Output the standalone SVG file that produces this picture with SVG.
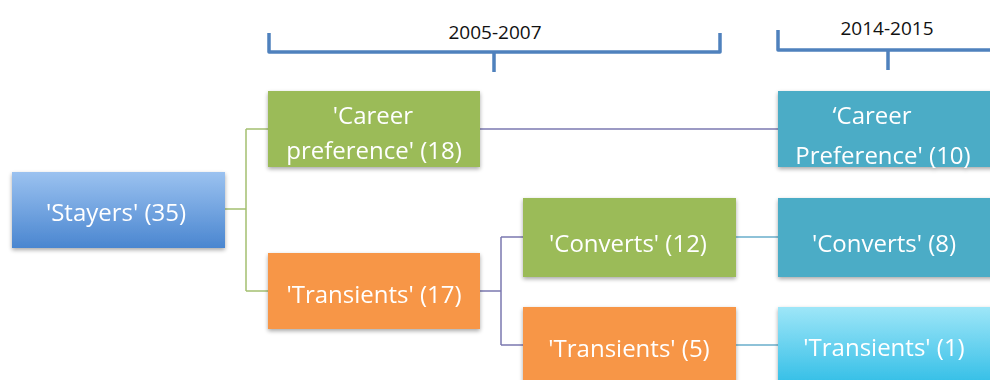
<svg xmlns="http://www.w3.org/2000/svg" width="990" height="380" viewBox="0 0 990 380">
  <defs>
    <linearGradient id="gStayers" x1="0" y1="0" x2="0" y2="1">
      <stop offset="0" stop-color="#9bc2f0"/>
      <stop offset="1" stop-color="#4a86d0"/>
    </linearGradient>
    <linearGradient id="gLight" x1="0" y1="0" x2="0" y2="1">
      <stop offset="0" stop-color="#9ee6f8"/>
      <stop offset="1" stop-color="#2fbde6"/>
    </linearGradient>
    <filter id="shadow" x="-10%" y="-10%" width="120%" height="130%">
      <feGaussianBlur in="SourceAlpha" stdDeviation="2"/>
      <feOffset dx="0" dy="2"/>
      <feComponentTransfer><feFuncA type="linear" slope="0.35"/></feComponentTransfer>
      <feMerge><feMergeNode/><feMergeNode in="SourceGraphic"/></feMerge>
    </filter>
  </defs>
  <style>
    .box { filter: url(#shadow); }
    .green { fill: #9bbb59; }
    .orange { fill: #f79646; }
    .teal { fill: #4bacc6; }
    .lbl { font-family: "Open Sans", "Liberation Sans", sans-serif; font-size: 24px; fill: #ffffff; text-anchor: middle; }
    .hdr { font-family: "Open Sans", "Liberation Sans", sans-serif; font-size: 19px; fill: #111111; text-anchor: middle; }
    .brace { fill: none; stroke: #4f81bd; stroke-width: 3.5; stroke-linejoin: round; }
    .c-green { fill: none; stroke: #a4c070; stroke-width: 1.5; }
    .c-purple { fill: none; stroke: #7b78b0; stroke-width: 1.5; }
    .c-blue { fill: none; stroke: #6aaecb; stroke-width: 1.5; }
  </style>
  <rect width="990" height="380" fill="#ffffff"/>

  <!-- period braces -->
  <g id="period-2005-2007">
    <path class="brace" d="M269,33 V52 H720 V33 M494,52 V72"/>
    <text class="hdr" x="495" y="39">2005-2007</text>
  </g>
  <g id="period-2014-2015">
    <path class="brace" d="M778,30 V50 H992 M888,50 V70"/>
    <text class="hdr" x="887" y="35">2014-2015</text>
  </g>

  <!-- connectors -->
  <g id="connectors">
    <path class="c-green" d="M225,209 H246 M246,129 V291 M246,129 H268 M246,291 H268"/>
    <path class="c-purple" d="M480,129 H778"/>
    <path class="c-purple" d="M480,291 H501 M501,237 V345 M501,237 H523 M501,345 H523"/>
    <path class="c-blue" d="M736,237 H778 M736,345 H778"/>
  </g>

  <!-- nodes -->
  <g id="stayers" class="box">
    <rect x="12" y="172" width="213" height="76" fill="url(#gStayers)"/>
    <text class="lbl" x="116" y="221">'Stayers' (35)</text>
  </g>
  <g id="career-pref-2005" class="box">
    <rect class="green" x="268" y="91" width="212" height="76"/>
    <text class="lbl" x="373" y="124">'Career</text>
    <text class="lbl" x="374" y="159">preference' (18)</text>
  </g>
  <g id="transients-2005" class="box">
    <rect class="orange" x="268" y="253" width="212" height="76"/>
    <text class="lbl" x="374" y="303">'Transients' (17)</text>
  </g>
  <g id="converts-2005" class="box">
    <rect class="green" x="523" y="198" width="213" height="79"/>
    <text class="lbl" x="628" y="252">'Converts' (12)</text>
  </g>
  <g id="transients-sub-2005" class="box">
    <rect class="orange" x="523" y="307" width="213" height="80"/>
    <text class="lbl" x="629" y="357">'Transients' (5)</text>
  </g>
  <g id="career-pref-2014" class="box">
    <rect class="teal" x="778" y="91" width="220" height="76"/>
    <text class="lbl" x="872" y="124">‘Career</text>
    <text class="lbl" x="883" y="164">Preference' (10)</text>
  </g>
  <g id="converts-2014" class="box">
    <rect class="teal" x="778" y="198" width="220" height="79"/>
    <text class="lbl" x="884" y="252">'Converts' (8)</text>
  </g>
  <g id="transients-2014" class="box">
    <rect x="778" y="307" width="220" height="80" fill="url(#gLight)"/>
    <text class="lbl" x="884" y="356">'Transients' (1)</text>
  </g>
</svg>
